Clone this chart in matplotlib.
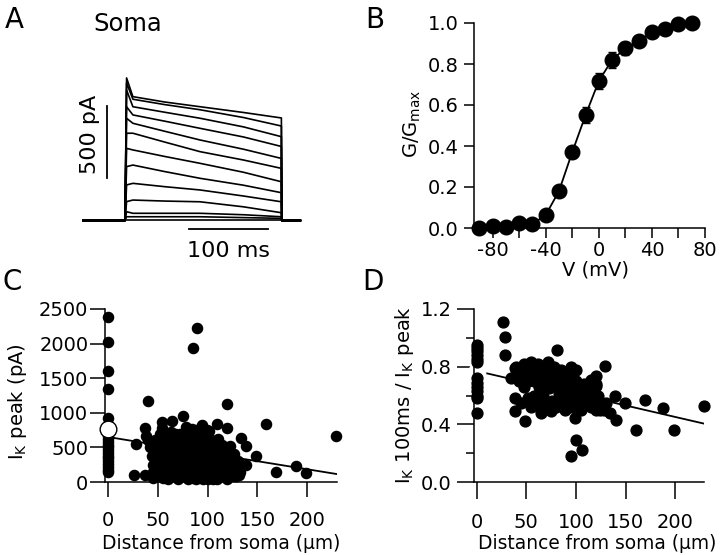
#!/usr/bin/python3

import matplotlib
matplotlib.use('Agg')
import matplotlib.pyplot as plt
from matplotlib.ticker import FixedLocator, FormatStrFormatter

plt.rcParams['font.family'] = ['DejaVu Sans']
plt.rcParams['axes.unicode_minus'] = False
plt.rcParams['mathtext.default'] = 'regular'
plt.rcParams['axes.linewidth'] = 1.1

# --- A: soma K currents, values (pA) read at these times (ms) after step onset
trace_t = [2, 10, 50, 95, 150, 198]
traces = [
    [990, 860, 823, 790, 750, 712],
    [955, 842, 805, 769, 715, 656],
    [906, 790, 752, 710, 650, 582],
    [790, 733, 690, 640, 580, 514],
    [710, 675, 620, 559, 495, 431],
    [606, 606, 545, 478, 420, 362],
    [501, 490, 445, 397, 335, 269],
    [374, 385, 340, 293, 245, 193],
    [247, 258, 235, 212, 170, 130],
    [131, 142, 135, 130, 95, 54],
    [61, 50, 50, 50, 40, 26],
    [26, 26, 26, 26, 20, 15],
]
t_start, t_end = -53, 222

# --- B: activation curve
volt = [-90, -80, -70, -60, -50, -40, -30, -20, -10, 0, 10, 20, 30, 40, 50, 60, 70]
g_norm = [0.0, 0.01, 0.007, 0.026, 0.02, 0.063, 0.18, 0.37, 0.55, 0.717,
          0.82, 0.876, 0.91, 0.955, 0.97, 0.995, 1.0]
g_sem = [0.01, 0.01, 0.01, 0.01, 0.01, 0.015, 0.02, 0.03, 0.04, 0.04,
         0.04, 0.03, 0.02, 0.015, 0.01, 0.01, 0.01]

# --- C: peak current vs distance
dist_c = [0] * 20 + [
    40, 85, 89, 120, 159, 229, 189, 199, 169, 149, 139, 134, 139, 129, 120, 109,
    26, 37, 50, 64, 28, 37, 40, 44, 54, 64, 75, 57, 50, 45, 48, 55, 60, 62, 66,
    68, 70, 72, 74, 75, 77, 78, 80, 80, 82, 83, 85, 85, 86, 88, 89, 90, 91, 92,
    93, 95, 95, 96, 97, 98, 100, 100, 101, 102, 103, 104, 105, 106, 107, 108,
    110, 112, 113, 115, 115, 118, 120, 122, 124, 126, 128, 130, 132, 70, 60, 55,
    88, 109, 66, 79, 94, 76, 84, 99, 115, 89, 99,
    42, 45, 47, 50, 52, 53, 56, 58, 59, 61, 63, 65, 67, 69, 71, 73, 74, 76, 78,
    79, 81, 83, 84, 86, 87, 89, 90, 92, 93, 94, 96, 97, 99, 100, 101, 103, 104,
    106, 107, 109, 110, 111, 113, 114, 116, 117, 119, 121, 123, 125, 127, 129,
    131, 133, 60, 80, 100, 120, 45, 68, 58, 48, 38, 54]
ipeak_c = [2380, 2030, 1610, 1340, 925, 700, 660, 620, 580, 540, 500, 460, 420,
           380, 340, 300, 260, 220, 180, 150] + [
    1165, 1936, 2220, 1127, 838, 659, 225, 130, 139, 370, 515, 636, 240, 81, 780, 842,
    105, 105, 105, 105, 550, 780, 611, 370, 780, 876, 948, 563, 330, 250, 450, 420,
    300, 500, 650, 200, 420, 700, 300, 100, 550, 800, 250, 400, 150, 650, 60, 500,
    330, 750, 200, 450, 100, 600, 300, 40, 680, 220, 400, 520, 100, 300, 740, 180,
    420, 580, 50, 250, 350, 480, 150, 300, 420, 100, 200, 350, 250, 130, 300, 180,
    80, 220, 100, 50, 160, 60, 50, 40, 360, 600, 820, 260, 420, 620, 530, 731, 756,
    500, 150, 600, 200, 700, 480, 250, 650, 120, 430, 720, 280, 560, 140, 480, 620,
    180, 380, 700, 90, 520, 300, 760, 160, 620, 400, 700, 220, 520, 90, 600, 300,
    160, 480, 640, 260, 90, 540, 160, 420, 620, 250, 80, 500, 300, 160, 420, 80,
    520, 250, 400, 160, 300, 140, 40, 40, 40, 40, 60, 700, 380, 300, 660, 860]
mean_c = (0, 760)
fit_c_x = [0, 230]
fit_c_y = [650, 115]

# --- D: I(100 ms)/I(peak) vs distance
dist_d = [0] * 13 + [
    27, 28.6, 29, 81, 39, 129, 39, 39, 49, 75, 65, 100, 100, 95, 106, 99, 120, 120,
    139.5, 149.6, 170, 188, 160, 199, 229, 140.5, 134,
    35, 40, 42, 45, 48, 50, 52, 55, 57, 58, 60, 62, 63, 65, 67, 68, 70, 72, 73, 75,
    76, 78, 80, 82, 83, 85, 86, 88, 89, 90, 92, 93, 95, 96, 98, 100, 101, 103, 105,
    106, 108, 110, 112, 115, 118, 120, 122, 125, 128, 130, 45, 52, 55, 60, 48, 58,
    70, 80, 85, 120, 115, 100, 95, 65,
    44, 47, 53, 56, 61, 64, 69, 71, 74, 77, 84, 87, 91, 94, 97, 102, 107, 111, 113,
    117, 124, 66, 58, 50, 43]
ratio_d = [0.95, 0.93, 0.91, 0.88, 0.85, 0.83, 0.72, 0.69, 0.66, 0.63, 0.60, 0.58, 0.48] + [
    1.107, 1.006, 0.883, 0.918, 0.79, 0.807, 0.583, 0.49, 0.42, 0.49, 0.478, 0.78,
    0.294, 0.178, 0.224, 0.444, 0.733, 0.664, 0.594, 0.548, 0.571, 0.513, 0.363,
    0.363, 0.525, 0.432, 0.478,
    0.72, 0.80, 0.76, 0.73, 0.82, 0.78, 0.70, 0.83, 0.75, 0.80, 0.72, 0.82, 0.66,
    0.77, 0.60, 0.80, 0.71, 0.83, 0.65, 0.76, 0.56, 0.80, 0.68, 0.74, 0.62, 0.78,
    0.55, 0.70, 0.50, 0.64, 0.74, 0.58, 0.67, 0.52, 0.61, 0.70, 0.55, 0.64, 0.50,
    0.60, 0.68, 0.55, 0.62, 0.52, 0.57, 0.50, 0.60, 0.55, 0.50, 0.55, 0.55, 0.58,
    0.52, 0.55, 0.66, 0.60, 0.53, 0.52, 0.60, 0.68, 0.71, 0.58, 0.80, 0.50,
    0.79, 0.75, 0.80, 0.77, 0.79, 0.74, 0.77, 0.79, 0.73, 0.77, 0.72, 0.66, 0.70,
    0.62, 0.57, 0.60, 0.56, 0.58, 0.66, 0.62, 0.50, 0.70, 0.70, 0.73, 0.70]
mean_d = (0, 0.77)
fit_d_x = [0, 229]
fit_d_y = [0.77, 0.405]

W, H = 720, 555
fig = plt.figure(figsize=(7.2, 5.55), dpi=100)


def px_axes(l, r, t, b):
    return fig.add_axes([l / W, 1 - b / H, (r - l) / W, (b - t) / H])


def style(ax, tick_len, ypad, xpad):
    for s in ['top', 'right']:
        ax.spines[s].set_visible(False)
    ax.tick_params(which='both', direction='out', width=1.1, labelsize=14)
    ax.tick_params(which='major', length=tick_len)
    ax.tick_params(axis='y', pad=ypad)
    ax.tick_params(axis='x', pad=xpad)


# A
axA = px_axes(75, 305, 70, 265)
axA.set_xlim(-63.3, 227.9)
axA.set_ylim(-309, 1045)
axA.axis('off')
for tr in traces:
    tt = [t_start, 0] + trace_t + [198.5, t_end]
    ii = [0, 0] + tr + [0, 0]
    axA.plot(tt, ii, color='k', lw=1.2)
axA.plot([t_start, t_end], [0, 0], color='k', lw=1.2)
axA.plot([-23, -23], [295, 795], color='k', lw=1.3)
axA.plot([81, 181], [-56, -56], color='k', lw=1.3)
axA.text(-44, 600, '500 pA', rotation=90, ha='center', va='center', fontsize=16)
axA.text(131, -250, '100 ms', ha='center', va='baseline', fontsize=16)

# B
axB = px_axes(474, 705, 23, 228)
axB.errorbar(volt, g_norm, yerr=g_sem, fmt='o', ms=10.5, color='k', capsize=3,
             elinewidth=1.1, clip_on=False, zorder=3)
axB.plot(volt[4:], g_norm[4:], color='k', lw=1.3, zorder=2)
axB.set_xlim(-94, 80)
axB.set_ylim(0, 1.0)
axB.xaxis.set_major_locator(FixedLocator([-80, -40, 0, 40, 80]))
axB.xaxis.set_minor_locator(FixedLocator([-60, -20, 20, 60]))
axB.yaxis.set_major_locator(FixedLocator([0, 0.2, 0.4, 0.6, 0.8, 1.0]))
axB.yaxis.set_major_formatter(FormatStrFormatter('%.1f'))
style(axB, 7, 4, 2)
axB.tick_params(which='minor', length=7)
axB.set_xlabel('V (mV)', fontsize=14, va='center')
axB.xaxis.set_label_coords(0.528, -0.205)
axB.set_ylabel('G/G$_{max}$', fontsize=14, va='center')
axB.yaxis.set_label_coords(-0.268, 0.507)

# C
axC = px_axes(105, 337, 309, 482)
axC.plot(dist_c, ipeak_c, 'o', ms=7.3, color='k', clip_on=False, zorder=3)
axC.plot(fit_c_x, fit_c_y, color='k', lw=1.3, zorder=2)
axC.plot(*mean_c, 'o', ms=12, mfc='white', mec='k', mew=1.0, clip_on=False, zorder=4)
axC.set_xlim(-3.3, 230.3)
axC.set_ylim(0, 2500)
axC.xaxis.set_major_locator(FixedLocator([0, 50, 100, 150, 200]))
axC.yaxis.set_major_locator(FixedLocator([0, 500, 1000, 1500, 2000, 2500]))
style(axC, 11, 1, 10)
axC.set_xlabel('Distance from soma (µm)', fontsize=13.4, va='center')
axC.xaxis.set_label_coords(0.5, -0.358)
axC.set_ylabel('I$_K$ peak (pA)', fontsize=14, va='center')
axC.yaxis.set_label_coords(-0.379, 0.462)

# D
axD = px_axes(474, 704, 309, 482)
axD.plot(dist_d, ratio_d, 'o', ms=7.8, color='k', clip_on=False, zorder=3)
axD.plot(fit_d_x, fit_d_y, color='k', lw=1.3, zorder=2)
axD.plot(*mean_d, 'o', ms=12, mfc='white', mec='white', clip_on=False, zorder=2.5)
axD.set_xlim(-2.7, 229)
axD.set_ylim(0, 1.2)
axD.xaxis.set_major_locator(FixedLocator([0, 50, 100, 150, 200]))
axD.yaxis.set_major_locator(FixedLocator([0, 0.4, 0.8, 1.2]))
axD.yaxis.set_minor_locator(FixedLocator([0.2, 0.6, 1.0]))
axD.yaxis.set_major_formatter(FormatStrFormatter('%.1f'))
style(axD, 12, 4, 10)
axD.tick_params(which='minor', length=6)
axD.set_xlabel('Distance from soma (µm)', fontsize=13.4, va='center')
axD.xaxis.set_label_coords(0.535, -0.358)
axD.set_ylabel('I$_K$ 100ms / I$_K$ peak', fontsize=14, va='center')
axD.yaxis.set_label_coords(-0.304, 0.503)

# panel letters
for lab, x, y in [('A', 5, 28), ('B', 365, 28), ('C', 2, 290), ('D', 362, 290)]:
    fig.text(x / W, 1 - y / H, lab, fontsize=20, ha='left', va='baseline')
fig.text(93 / W, 1 - 31 / H, 'Soma', fontsize=17.5, ha='left', va='baseline')

fig.savefig('out.png', dpi=100)
